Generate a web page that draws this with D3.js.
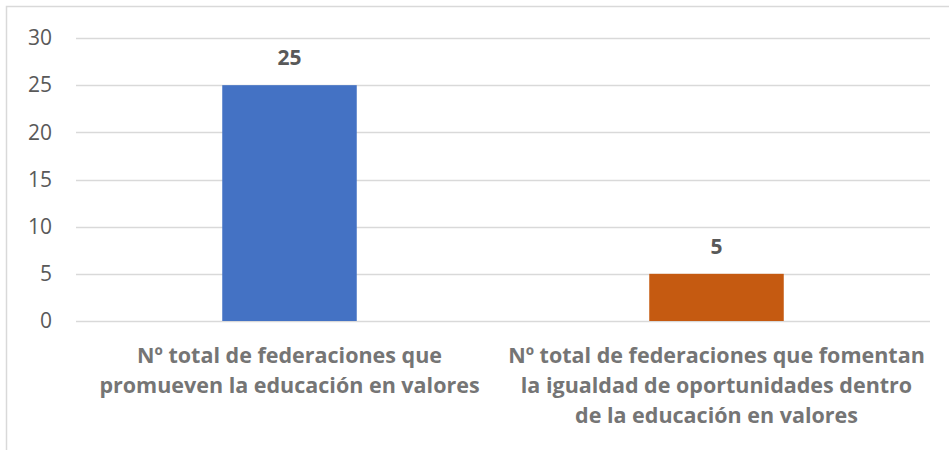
<!DOCTYPE html>
<html>
<head>
<meta charset="utf-8">
<script src="https://cdn.jsdelivr.net/npm/d3@7"></script>
<style>
  body { margin: 0; background: #fff; }
  svg { display: block; }
</style>
</head>
<body>
<script>
// data
var categories = [
  ["Nº total de federaciones que", "promueven la educación en valores"],
  ["Nº total de federaciones que fomentan", "la igualdad de oportunidades dentro", "de la educación en valores"]
];
var values = [25, 5];
var colors = ["#4472C4", "#C55A11"];
var yTicks = [0, 5, 10, 15, 20, 25, 30];

var W = 949, H = 450;
var margin = { top: 38, right: 19, bottom: 129, left: 76 };
var width = W - margin.left - margin.right;
var height = H - margin.top - margin.bottom;
var font = "'Open Sans', sans-serif";

var svg = d3.select("body").append("svg")
    .attr("width", W)
    .attr("height", H);

// chart frame
svg.append("path")
    .attr("d", "M6.5," + H + "V6.5H" + W)
    .attr("fill", "none")
    .attr("stroke", "#d9d9d9")
    .attr("stroke-width", 1.5);

var g = svg.append("g")
    .attr("transform", "translate(" + margin.left + "," + margin.top + ")");

var x = d3.scaleBand().domain(d3.range(values.length)).range([0, width]).padding(0);
var y = d3.scaleLinear().domain([0, 30]).range([height, 0]);
var barW = x.bandwidth() * 0.315;

// gridlines
g.selectAll(".grid")
    .data(yTicks)
    .enter().append("line")
    .attr("x1", 0)
    .attr("x2", width)
    .attr("y1", function(d) { return Math.round(y(d)) + 0.5; })
    .attr("y2", function(d) { return Math.round(y(d)) + 0.5; })
    .attr("stroke", "#d9d9d9")
    .attr("stroke-width", 1.5);

// y axis labels
var yAxis = g.append("g")
    .call(d3.axisLeft(y).tickValues(yTicks).tickSize(0).tickPadding(24));
yAxis.select(".domain").remove();
yAxis.selectAll("text")
    .attr("fill", "#595959")
    .style("font-family", font)
    .style("font-size", "21px");

// bars
g.selectAll(".bar")
    .data(values)
    .enter().append("rect")
    .attr("x", function(d, i) { return x(i) + x.bandwidth() / 2 - barW / 2; })
    .attr("y", function(d) { return y(d); })
    .attr("width", barW)
    .attr("height", function(d) { return y(0) - y(d); })
    .attr("fill", function(d, i) { return colors[i]; });

// value labels
g.selectAll(".val")
    .data(values)
    .enter().append("text")
    .attr("x", function(d, i) { return x(i) + x.bandwidth() / 2; })
    .attr("y", function(d) { return y(d) - 20; })
    .attr("text-anchor", "middle")
    .attr("fill", "#595959")
    .style("font-family", font)
    .style("font-size", "21px")
    .style("font-weight", "bold")
    .text(function(d) { return d; });

// category labels
var cat = g.selectAll(".cat")
    .data(categories)
    .enter().append("text")
    .attr("text-anchor", "middle")
    .attr("fill", "#757575")
    .style("font-family", font)
    .style("font-size", "21.5px")
    .style("font-weight", "bold");
cat.each(function(lines, i) {
  d3.select(this).selectAll("tspan")
    .data(lines)
    .enter().append("tspan")
    .attr("x", x(i) + x.bandwidth() / 2)
    .attr("y", function(d, j) { return height + 42 + j * 30; })
    .text(function(d) { return d; });
});
</script>
</body>
</html>
